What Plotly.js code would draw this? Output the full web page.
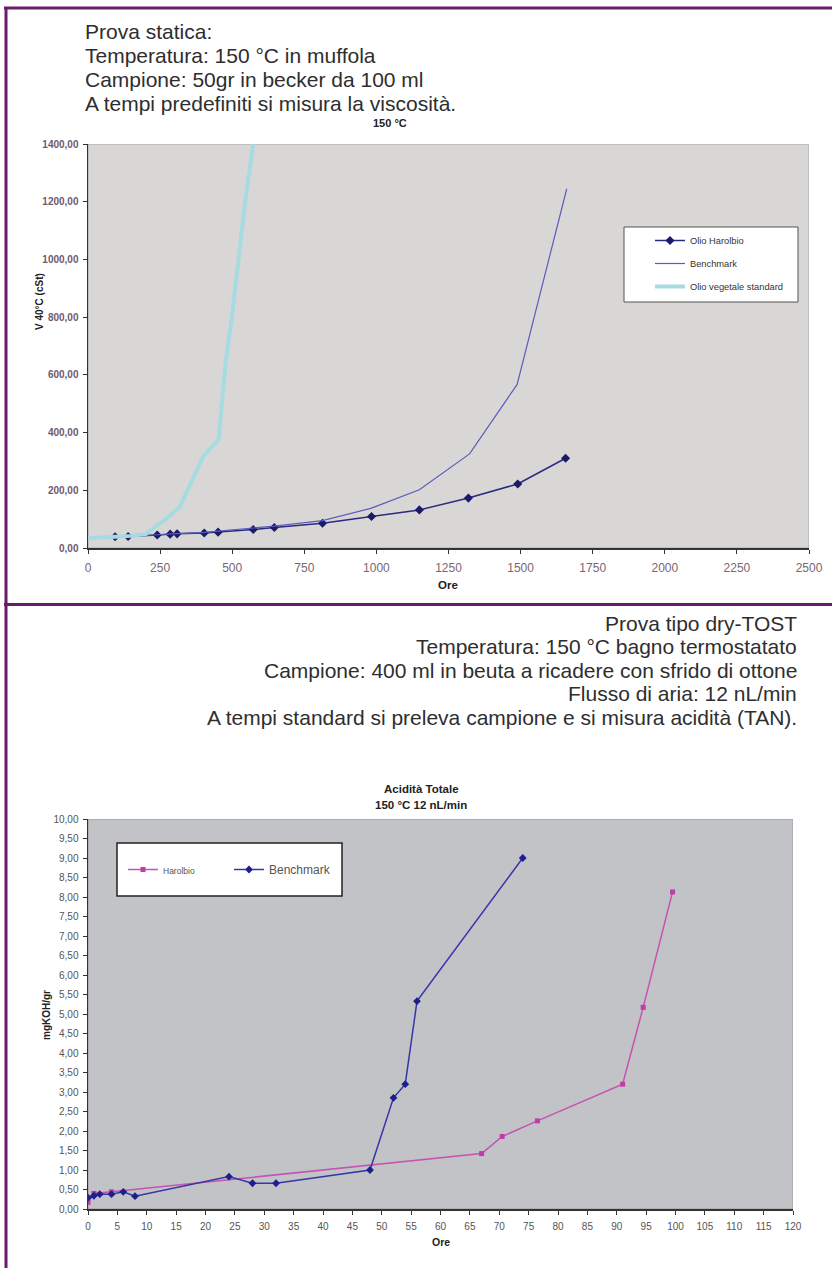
<!DOCTYPE html>
<html>
<head>
<meta charset="utf-8">
<script src="https://cdn.plot.ly/plotly-3.0.1.min.js"></script>
<style>html,body{margin:0;padding:0;background:#fff;}#chart{width:832px;height:1268px;}</style>
</head>
<body>
<div id="chart"></div>
<script>
// ---- Top chart: viscosity at 150 °C ----
const harolbioHours = [94, 139, 240, 285, 309, 403, 451, 573, 646, 813, 983, 1149, 1319, 1490, 1656];
const harolbioVisc  = [39, 40, 45, 48, 49, 52, 55, 64, 71, 86, 109, 132, 173, 222, 311];
const benchHours    = [94, 139, 240, 285, 309, 403, 451, 573, 646, 813, 983, 1149, 1323, 1488, 1660];
const benchVisc     = [40, 41, 46, 49, 50, 54, 58, 68, 76, 95, 138, 202, 326, 567, 1245];
const vegHours      = [0, 50, 94, 150, 200, 226, 270, 319, 360, 400, 453, 465, 478, 500, 521, 545, 573, 585];
const vegVisc       = [34, 35, 39, 42, 48, 68, 100, 144, 230, 318, 376, 520, 650, 810, 1000, 1200, 1400, 1480];
const topSeriesNames = ['Olio Harolbio', 'Benchmark', 'Olio vegetale standard'];

// ---- Bottom chart: total acidity ----
const tanHarolbioHours = [0, 1, 4, 67, 70.5, 76.5, 91, 94.5, 99.5];
const tanHarolbio      = [0.17, 0.40, 0.44, 1.42, 1.86, 2.26, 3.20, 5.17, 8.13];
const tanBenchHours    = [0, 1, 2, 4, 6, 8, 24, 28, 32, 48, 52, 54, 56, 74];
const tanBench         = [0.29, 0.34, 0.38, 0.38, 0.44, 0.33, 0.83, 0.66, 0.66, 1.00, 2.85, 3.20, 5.33, 9.00];
const bottomSeriesNames = ['Harolbio', 'Benchmark'];

const topTextLines = ['Prova statica:', 'Temperatura: 150 °C in muffola', 'Campione: 50gr in becker da 100 ml', 'A tempi predefiniti si misura la viscosità.'];
const bottomTextLines = ['Prova tipo dry-TOST', 'Temperatura: 150 °C bagno termostatato', 'Campione: 400 ml in beuta a ricadere con sfrido di ottone', 'Flusso di aria: 12 nL/min', 'A tempi standard si preleva campione e si misura acidità (TAN).'];

const W = 832, H = 1268;
const px = x => x / W;
const py = y => 1 - y / H;
const FONT = 'Liberation Sans, Arial, sans-serif';

const traces = [
  {x: harolbioHours, y: harolbioVisc, name: topSeriesNames[0], mode: 'lines+markers', xaxis: 'x', yaxis: 'y',
   line: {color: '#2a2a80', width: 1.5}, marker: {symbol: 'diamond', size: 7, color: '#1a1a6a'}, legend: 'legend', legendgroup: 'a'},
  {x: benchHours, y: benchVisc, name: topSeriesNames[1], mode: 'lines', xaxis: 'x', yaxis: 'y',
   line: {color: '#5c5cbc', width: 1.2}, legend: 'legend', legendgroup: 'b'},
  {x: vegHours, y: vegVisc, name: topSeriesNames[2], mode: 'lines', xaxis: 'x', yaxis: 'y',
   line: {color: '#a6dbe2', width: 4}, legend: 'legend', legendgroup: 'c'},
  {x: tanHarolbioHours, y: tanHarolbio, name: '<span style="font-size:8.5px">' + bottomSeriesNames[0] + '</span>', mode: 'lines+markers', xaxis: 'x2', yaxis: 'y2',
   line: {color: '#c653b2', width: 1.5}, marker: {symbol: 'square', size: 5, color: '#c03ca8'}, legend: 'legend2', legendwidth: 61},
  {x: tanBenchHours, y: tanBench, name: bottomSeriesNames[1], mode: 'lines+markers', xaxis: 'x2', yaxis: 'y2',
   line: {color: '#3636a6', width: 1.5}, marker: {symbol: 'diamond', size: 6, color: '#1e1e8c'}, legend: 'legend2'}
];

const ann = [];
topTextLines.forEach((t, i) => ann.push({text: t, xref: 'paper', yref: 'paper', x: px(83), y: py(31.5 + 24 * i),
  xanchor: 'left', yanchor: 'middle', showarrow: false, font: {family: FONT, size: 21, color: '#2e2e2e'}}));
bottomTextLines.forEach((t, i) => ann.push({text: t, xref: 'paper', yref: 'paper', x: px(799), y: py(623 + 23.5 * i),
  xanchor: 'right', yanchor: 'middle', showarrow: false, font: {family: FONT, size: 21, color: '#2e2e2e'}}));
const small = (t, x, y, size, angle) => ({text: t, xref: 'paper', yref: 'paper', x: px(x), y: py(y), xanchor: 'center', yanchor: 'middle',
  showarrow: false, textangle: angle || 0, font: {family: FONT, size: size, color: '#222', weight: 'bold'}});
ann.push(small('150 °C', 390, 123, 11));
ann.push(small('Ore', 448, 585, 11.5));
ann.push(small('V 40°C (cSt)', 40, 302, 10, -90));
ann.push(small('Acidità Totale', 421, 789, 11.5));
ann.push(small('150 °C 12 nL/min', 421, 805, 11.5));
ann.push(small('Ore', 441, 1242, 10.5));
ann.push(small('mgKOH/gr', 46, 1015, 10, -90));

const frame = '#6a1b6a';
const shapes = [
  {type: 'rect', xref: 'x', yref: 'y', x0: 0, x1: 2500, y0: 0, y1: 1400, fillcolor: '#d9d7d5', line: {color: '#a8a8a8', width: 1}, layer: 'below'},
  {type: 'rect', xref: 'x2', yref: 'y2', x0: 0, x1: 120, y0: 0, y1: 10, fillcolor: '#c1c3c6', line: {color: '#9a9a9a', width: 1}, layer: 'below'},
  {type: 'rect', xref: 'paper', yref: 'paper', x0: px(624), x1: px(798), y0: py(302), y1: py(227), fillcolor: '#ffffff', line: {color: '#555', width: 1}},
  {type: 'rect', xref: 'paper', yref: 'paper', x0: px(117), x1: px(342), y0: py(896), y1: py(843), fillcolor: '#ffffff', line: {color: '#222', width: 1.5}},
  {type: 'line', xref: 'paper', yref: 'paper', x0: px(4), x1: 1, y0: py(8), y1: py(8), line: {color: frame, width: 3}},
  {type: 'line', xref: 'paper', yref: 'paper', x0: px(6), x1: px(6), y0: py(7), y1: 0, line: {color: frame, width: 3}},
  {type: 'line', xref: 'paper', yref: 'paper', x0: px(4), x1: 1, y0: py(604.5), y1: py(604.5), line: {color: frame, width: 3}}
];

const axBase = {showgrid: false, zeroline: false, showline: true, linecolor: '#333', linewidth: 1.5,
  ticks: 'outside', ticklen: 4, tickcolor: '#333', fixedrange: true};

const layout = {
  width: W, height: H, margin: {l: 0, r: 0, t: 0, b: 0},
  paper_bgcolor: '#ffffff', plot_bgcolor: 'rgba(0,0,0,0)',
  separators: ',.',
  font: {family: FONT},
  xaxis: Object.assign({}, axBase, {domain: [px(88), px(809)], range: [0, 2500], tick0: 0, dtick: 250, anchor: 'y',
    ticklabelstandoff: 4, tickfont: {family: FONT, size: 12, color: '#7a6675'}}),
  yaxis: Object.assign({}, axBase, {domain: [py(548), py(144)], range: [0, 1400], tick0: 0, dtick: 200, tickformat: '.2f', anchor: 'x',
    ticklabelstandoff: 2, tickfont: {family: FONT, size: 10, color: '#6e5a6c', weight: 'bold'}}),
  xaxis2: Object.assign({}, axBase, {domain: [px(88), px(793)], range: [0, 120], tick0: 0, dtick: 5, anchor: 'y2',
    ticklabelstandoff: 3, tickfont: {family: FONT, size: 10, color: '#555'}}),
  yaxis2: Object.assign({}, axBase, {domain: [py(1209), py(819)], range: [0, 10], tick0: 0, dtick: 0.5, tickformat: '.2f', anchor: 'x2',
    ticklabelstandoff: 2, tickfont: {family: FONT, size: 10, color: '#555'}}),
  showlegend: true,
  legend: {x: px(650), y: py(226), xanchor: 'left', yanchor: 'top', bgcolor: 'rgba(0,0,0,0)', borderwidth: 0,
    font: {family: FONT, size: 9.3, color: '#333'}, tracegroupgap: 4, orientation: 'v'},
  legend2: {x: px(123), y: py(855), xanchor: 'left', yanchor: 'top', bgcolor: 'rgba(0,0,0,0)', borderwidth: 0,
    font: {family: FONT, size: 12, color: '#555'}, orientation: 'h'},
  annotations: ann,
  shapes: shapes
};

Plotly.newPlot('chart', traces, layout, {staticPlot: true, displayModeBar: false});
</script>
</body>
</html>
